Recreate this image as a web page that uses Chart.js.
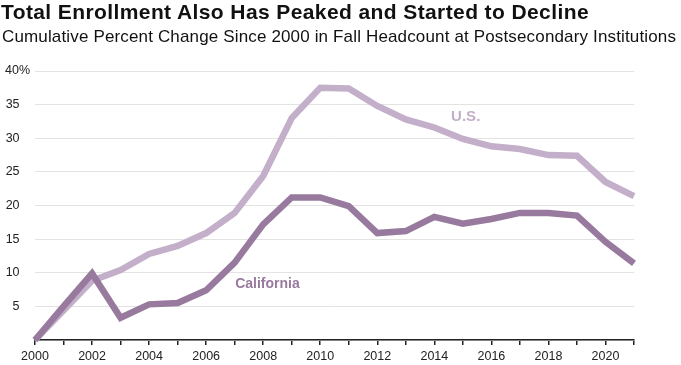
<!DOCTYPE html>
<html>
<head>
<meta charset="utf-8">
<script src="https://cdn.jsdelivr.net/npm/chart.js@4.4.1/dist/chart.umd.min.js"></script>
<style>
  body { margin: 0; background: #fff; }
  #wrap { position: relative; width: 681px; height: 365px; }
  #wrap canvas { position: absolute; left: 0; top: 0; }
  .title {
    position: absolute; left: 1px; top: 1px;
    font: bold 21px "Liberation Sans", Arial, sans-serif; line-height: 21px;
    letter-spacing: 0.4px; color: #111; white-space: nowrap;
  }
  .subtitle {
    position: absolute; left: 2px; top: 28px;
    font: 17px "Liberation Sans", Arial, sans-serif; line-height: 17px;
    letter-spacing: 0.15px; color: #111; white-space: nowrap;
  }
</style>
</head>
<body>
<div id="wrap">
  <canvas id="enrollChart" width="681" height="365"></canvas>
  <div class="title">Total Enrollment Also Has Peaked and Started to Decline</div>
  <div class="subtitle">Cumulative Percent Change Since 2000 in Fall Headcount at Postsecondary Institutions</div>
</div>
<script>
// 연도
const years = ['2000', '2001', '2002', '2003', '2004', '2005', '2006', '2007', '2008', '2009', '2010',
               '2011', '2012', '2013', '2014', '2015', '2016', '2017', '2018', '2019', '2020', '2021'];
// cumulative % change since 2000
const usChange = [0, 4.4, 8.8, 10.4, 12.8, 14.0, 15.9, 18.9, 24.4, 33.0, 37.5,
                  37.4, 34.8, 32.8, 31.6, 29.9, 28.8, 28.4, 27.5, 27.4, 23.5, 21.4];
const caChange = [0, 5.0, 9.9, 3.3, 5.3, 5.5, 7.4, 11.5, 17.2, 21.2, 21.2,
                  19.9, 15.9, 16.2, 18.3, 17.3, 18.0, 18.9, 18.9, 18.5, 14.6, 11.4];
const yTicks = [0, 5, 10, 15, 20, 25, 30, 35, 40];

// line labels (placed in data units)
const lineLabels = ['U.S.', 'California'];
const labelX = [15.1, 8.15];
const labelY = [33.2, 8.25];

const usColor = '#c3afc9';
const caColor = '#987a9f';

const lineLabelPlugin = {
    id: 'lineLabels',
    afterDatasetsDraw(chart) {
        const ctx = chart.ctx;
        const xs = chart.scales.x, ys = chart.scales.y;
        const colors = [usColor, caColor];
        const sizes = [15, 14];
        ctx.save();
        ctx.textAlign = 'center';
        ctx.textBaseline = 'middle';
        lineLabels.forEach((txt, i) => {
            ctx.font = 'bold ' + sizes[i] + 'px "Liberation Sans", Arial, sans-serif';
            ctx.fillStyle = colors[i];
            ctx.fillText(txt, xs.getPixelForValue(labelX[i]), ys.getPixelForValue(labelY[i]));
        });
        ctx.restore();
    }
};

const tickFont = { family: '"Liberation Sans", Arial, sans-serif', size: 12.5 };

new Chart(document.getElementById('enrollChart').getContext('2d'), {
    type: 'line',
    data: {
        labels: years,
        datasets: [{
            label: 'California',
            data: caChange,
            borderColor: caColor,
            borderWidth: 6.5,
            pointRadius: 0,
            tension: 0,
            clip: false,
            order: 0
        }, {
            label: 'U.S.',
            data: usChange,
            borderColor: usColor,
            borderWidth: 6.5,
            pointRadius: 0,
            tension: 0,
            clip: false,
            order: 1
        }]
    },
    options: {
        responsive: false,
        animation: false,
        devicePixelRatio: 1,
        layout: { padding: { top: 71, right: 47, left: 0, bottom: 0 } },
        plugins: {
            legend: { display: false },
            tooltip: { enabled: false }
        },
        scales: {
            x: {
                offset: false,
                afterFit: (scale) => { scale.height = 25; },
                grid: {
                    drawOnChartArea: false,
                    drawTicks: true,
                    tickLength: 5,
                    color: '#222',
                    lineWidth: 1.5
                },
                border: { display: true, color: '#222', width: 1.5 },
                ticks: {
                    autoSkip: false,
                    maxRotation: 0,
                    padding: 4,
                    color: '#222',
                    font: tickFont,
                    callback: (value, index) => index % 2 === 0 ? years[index] : ''
                }
            },
            y: {
                min: 0,
                max: 40,
                afterFit: (scale) => { scale.width = 35; },
                afterBuildTicks: (scale) => { scale.ticks = yTicks.map(v => ({ value: v })); },
                grid: { color: '#e3e3e3', lineWidth: 1, drawTicks: false },
                border: { display: false },
                ticks: {
                    padding: 5,
                    color: '#222',
                    font: tickFont,
                    callback: (value) => value === 0 ? '' : (value === 40 ? '40%' : value + '\u2007 ')
                }
            }
        }
    },
    plugins: [lineLabelPlugin]
});
</script>
</body>
</html>
